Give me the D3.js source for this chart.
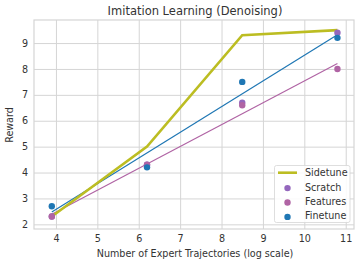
<!DOCTYPE html>
<html>
<head>
<meta charset="utf-8">
<script src="https://cdn.jsdelivr.net/npm/d3@7"></script>
<style>
  body { margin: 0; background: #fff; }
  text { font-family: "DejaVu Sans", sans-serif; fill: #333; }
  .grid line { stroke: #d5d5d5; stroke-width: 1; }
</style>
</head>
<body>
<svg id="chart" width="355" height="259"></svg>
<script>
// values
var xs = [3.9, 6.2, 8.5, 10.8];
var sidetune = [2.3, 5.0, 9.3, 9.5];
var scratch = [2.3, 4.3, 6.7, 9.4];
var features = [2.3, 4.3, 6.6, 8.0];
var finetune = [2.7, 4.2, 7.5, 9.2];
var xTicks = [4, 5, 6, 7, 8, 9, 10, 11];
var yTicks = [2, 3, 4, 5, 6, 7, 8, 9];

var colors = {
  sidetune: '#bcbd22',
  scratch: '#9467bd',
  features: '#b064a4',
  finetune: '#1f77b4'
};

var dims = { width: 355, height: 259, margins: { top: 20, bottom: 30, left: 34, right: 1 } };
var fs = '9.6px';

var svg = d3.select('#chart');
var x = d3.scaleLinear().domain([3.47, 11.2]).range([dims.margins.left, dims.width - dims.margins.right]);
var y = d3.scaleLinear().domain([1.82, 9.89]).range([dims.height - dims.margins.bottom, dims.margins.top]);

var g = svg.append('g');

// grid
g.append('g').classed('grid', true)
  .attr('transform', 'translate(0,' + y.range()[0] + ')')
  .call(d3.axisBottom(x).tickValues(xTicks).tickSize(-(y.range()[0] - y.range()[1])).tickFormat(''))
  .call(a => a.select('.domain').remove());
g.append('g').classed('grid', true)
  .attr('transform', 'translate(' + x.range()[0] + ',0)')
  .call(d3.axisLeft(y).tickValues(yTicks).tickSize(-(x.range()[1] - x.range()[0])).tickFormat(''))
  .call(a => a.select('.domain').remove());

// frame
g.append('rect')
  .attr('x', x.range()[0]).attr('y', y.range()[1])
  .attr('width', x.range()[1] - x.range()[0]).attr('height', y.range()[0] - y.range()[1])
  .attr('fill', 'none').attr('stroke', '#d5d5d5').attr('stroke-width', 1.2);

// tick labels
var xAxis = g.append('g')
  .attr('transform', 'translate(0,' + y.range()[0] + ')')
  .call(d3.axisBottom(x).tickValues(xTicks).tickSize(0).tickPadding(6));
xAxis.select('.domain').remove();
xAxis.selectAll('text').style('font-size', fs).attr('fill', '#333');

var yAxis = g.append('g')
  .attr('transform', 'translate(' + x.range()[0] + ',0)')
  .call(d3.axisLeft(y).tickValues(yTicks).tickSize(0).tickPadding(6));
yAxis.select('.domain').remove();
yAxis.selectAll('text').style('font-size', fs).attr('fill', '#333');

// least squares fit of a series
function fit(vals) {
  var mx = d3.mean(xs), my = d3.mean(vals);
  var num = d3.sum(xs, (d, i) => (d - mx) * (vals[i] - my));
  var den = d3.sum(xs, d => (d - mx) * (d - mx));
  var b = num / den, a = my - b * mx;
  return [[xs[0], a + b * xs[0]], [xs[xs.length - 1], a + b * xs[xs.length - 1]]];
}

var line = d3.line().x(d => x(d[0])).y(d => y(d[1]));

g.append('path').datum(fit(features))
  .attr('d', line).attr('fill', 'none').attr('stroke', colors.features).attr('stroke-width', 1.2);
g.append('path').datum(fit(finetune))
  .attr('d', line).attr('fill', 'none').attr('stroke', colors.finetune).attr('stroke-width', 1.2);
g.append('path').datum(xs.map((d, i) => [d, sidetune[i]]))
  .attr('d', line).attr('fill', 'none').attr('stroke', colors.sidetune).attr('stroke-width', 2.6);

function dots(vals, col) {
  g.append('g').selectAll('circle')
    .data(xs.map((d, i) => [d, vals[i]]))
    .enter().append('circle')
    .attr('cx', d => x(d[0])).attr('cy', d => y(d[1]))
    .attr('r', 3.2).attr('fill', col);
}
dots(scratch, colors.scratch);
dots(features, colors.features);
dots(finetune, colors.finetune);

// title and axis labels
svg.append('text').attr('x', 195).attr('y', 15).attr('text-anchor', 'middle')
  .style('font-size', '11.5px').text('Imitation Learning (Denoising)');
svg.append('text').attr('x', 195).attr('y', 257).attr('text-anchor', 'middle')
  .style('font-size', fs).text('Number of Expert Trajectories (log scale)');
svg.append('text').attr('transform', 'translate(13,125) rotate(-90)').attr('text-anchor', 'middle')
  .style('font-size', fs).text('Reward');

// legend
var legend = svg.append('g');
legend.append('rect').attr('x', 274.5).attr('y', 165.5).attr('width', 75.5).attr('height', 57)
  .attr('rx', 2).attr('fill', 'rgba(255,255,255,0.85)').attr('stroke', '#d5d5d5').attr('stroke-width', 0.8);
var items = [
  { name: 'Sidetune', col: colors.sidetune, kind: 'line' },
  { name: 'Scratch', col: colors.scratch, kind: 'dot' },
  { name: 'Features', col: colors.features, kind: 'dot' },
  { name: 'Finetune', col: colors.finetune, kind: 'dot' }
];
items.forEach((it, i) => {
  var yy = 172.7 + i * 14.4;
  if (it.kind === 'line') {
    legend.append('line').attr('x1', 278).attr('x2', 297).attr('y1', yy).attr('y2', yy)
      .attr('stroke', it.col).attr('stroke-width', 2.6);
  } else {
    legend.append('circle').attr('cx', 287.5).attr('cy', yy + 1).attr('r', 3.2).attr('fill', it.col);
  }
  legend.append('text').attr('x', 305).attr('y', yy + 3.5).style('font-size', fs).text(it.name);
});
</script>
</body>
</html>
